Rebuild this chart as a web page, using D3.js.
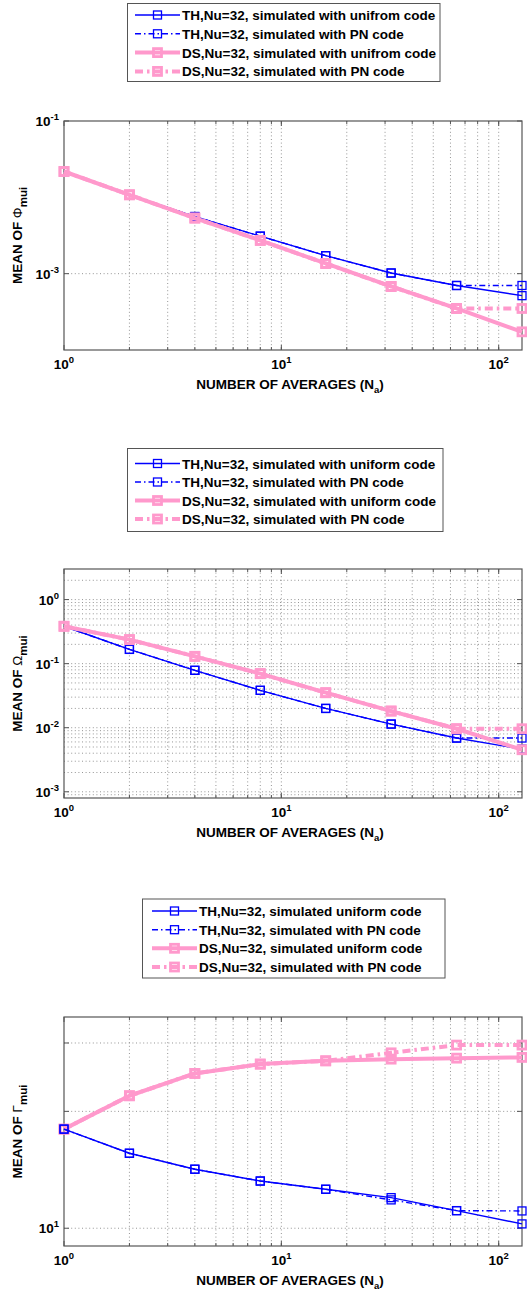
<!DOCTYPE html>
<html>
<head>
<meta charset="utf-8">
<script src="https://cdn.jsdelivr.net/npm/d3@7"></script>
<style>
  body { margin: 0; background: #fff; }
  svg { display: block; }
  text { font-family: "Liberation Sans", Arial, Helvetica, sans-serif; font-weight: bold; fill: #000; }
</style>
</head>
<body>
<svg id="chart" width="527" height="1290"></svg>
<script>
// Number of averages (x axis, shared by all three panels)
const averages = [1, 2, 4, 8, 16, 32, 64, 128];

// Mean of Phi_mui
const phiThUniform = [0.0218, 0.0108, 0.0056, 0.0031, 0.00172, 0.00102, 0.00070, 0.000515];
const phiThPN      = [0.0218, 0.0108, 0.0056, 0.0031, 0.00172, 0.00102, 0.00070, 0.00070];
const phiDsUniform = [0.0218, 0.0108, 0.00535, 0.00273, 0.00136, 0.00068, 0.00035, 0.000173];
const phiDsPN      = [0.0218, 0.0108, 0.00535, 0.00273, 0.00136, 0.00068, 0.00035, 0.00035];

// Mean of Omega_mui
const omegaThUniform = [0.383, 0.167, 0.0786, 0.0383, 0.0200, 0.0114, 0.0069, 0.00463];
const omegaThPN      = [0.383, 0.167, 0.0786, 0.0383, 0.0200, 0.0114, 0.0069, 0.0069];
const omegaDsUniform = [0.383, 0.237, 0.130, 0.0698, 0.0352, 0.0182, 0.00964, 0.00453];
const omegaDsPN      = [0.383, 0.237, 0.130, 0.0698, 0.0352, 0.0182, 0.00964, 0.00964];

// Mean of Gamma_mui
const gammaThUniform = [18.0, 15.6, 14.19, 13.23, 12.60, 11.99, 11.10, 10.26];
const gammaThPN      = [18.0, 15.6, 14.19, 13.23, 12.60, 11.83, 11.10, 11.08];
const gammaDsUniform = [18.0, 21.94, 25.05, 26.47, 26.99, 27.26, 27.42, 27.54];
const gammaDsPN      = [18.0, 21.94, 25.05, 26.47, 26.99, 28.30, 29.63, 29.63];

// Legend entries
const legendPhi = [
  "TH,Nu=32, simulated with unifrom code",
  "TH,Nu=32, simulated with PN code",
  "DS,Nu=32, simulated with unifrom code",
  "DS,Nu=32, simulated with PN code"
];
const legendOmega = [
  "TH,Nu=32, simulated with uniform code",
  "TH,Nu=32, simulated with PN code",
  "DS,Nu=32, simulated with uniform code",
  "DS,Nu=32, simulated with PN code"
];
const legendGamma = [
  "TH,Nu=32, simulated uniform code",
  "TH,Nu=32, simulated with PN code",
  "DS,Nu=32, simulated uniform code",
  "DS,Nu=32, simulated with PN code"
];

// Axis ticks
const xTickValues = [1, 10, 100];
const xTickExponents = ["0", "1", "2"];
const phiTickValues = [1e-1, 1e-3];
const phiTickExponents = ["-1", "-3"];
const omegaTickValues = [1, 1e-1, 1e-2, 1e-3];
const omegaTickExponents = ["0", "-1", "-2", "-3"];
const gammaTickValues = [10, 20, 30];
const gammaTickExponents = ["1", null, null];

// Line styles for the four series
const BLUE = "#0000ff";
const PINK = "#ff99cc";
const styles = [
  { color: BLUE, width: 1.4, dash: null,          marker: 8, mstroke: 1.3 },
  { color: BLUE, width: 1.4, dash: "6,3,1.5,3",   marker: 8, mstroke: 1.3 },
  { color: PINK, width: 4,   dash: null,          marker: 8, mstroke: 2.8 },
  { color: PINK, width: 4,   dash: "8,4,2.5,4",   marker: 8, mstroke: 2.8 }
];

const svg = d3.select("#chart");
const LEFT = 64, RIGHT = 522, PH = 229;

const panels = [
  {
    top: 121, domain: [1e-4, 1e-1], series: [phiThUniform, phiThPN, phiDsUniform, phiDsPN],
    order: [0, 1, 2, 3], ticks: phiTickValues, exps: phiTickExponents, grid: [1e-3],
    symbol: "\u03A6", legend: legendPhi,
    lg: { x0: 127.5, x1: 440, y0: 3.5, y1: 81.5, rows: [15, 33.8, 52.6, 71.4], s0: 135, s1: 180, tx: 182 }
  },
  {
    top: 569, domain: [8e-4, 3], series: [omegaThUniform, omegaThPN, omegaDsUniform, omegaDsPN],
    order: [0, 1, 2, 3], ticks: omegaTickValues, exps: omegaTickExponents,
    grid: (() => { const g = []; for (let e = -4; e <= 0; e++) for (let m = 1; m <= 9; m++) { const v = m * Math.pow(10, e); if (v > 8e-4 && v < 3) g.push(v); } return g; })(),
    symbol: "\u03A9", legend: legendOmega,
    lg: { x0: 127.5, x1: 443, y0: 448.5, y1: 531.5, rows: [463.5, 482, 500.5, 519], s0: 135, s1: 180, tx: 182 }
  },
  {
    top: 1017, domain: [9, 35], series: [gammaThUniform, gammaThPN, gammaDsUniform, gammaDsPN],
    order: [2, 3, 0, 1], ticks: gammaTickValues, exps: gammaTickExponents, grid: [10, 20, 30],
    symbol: "\u0393", legend: legendGamma,
    lg: { x0: 142.5, x1: 445, y0: 899, y1: 978, rows: [911, 929.7, 948.3, 967], s0: 152, s1: 197, tx: 199 }
  }
];

// vertical grid positions: 2..9, 10..90, 100
const xGrid = [];
for (let e = 0; e <= 2; e++) for (let m = 1; m <= 9; m++) {
  const v = m * Math.pow(10, e);
  if (v > 1 && v < 128) xGrid.push(v);
}

panels.forEach(p => {
  const bottom = p.top + PH;
  const x = d3.scaleLog().domain([1, 128]).range([LEFT, RIGHT]);
  const y = d3.scaleLog().domain(p.domain).range([bottom, p.top]);
  const g = svg.append("g");

  // grid
  g.selectAll(null).data(xGrid).join("line")
    .attr("x1", d => x(d)).attr("x2", d => x(d))
    .attr("y1", p.top).attr("y2", bottom)
    .attr("stroke", "#8a8a8a").attr("stroke-width", 0.9).attr("stroke-dasharray", "1,2.6");
  g.selectAll(null).data(p.grid).join("line")
    .attr("x1", LEFT).attr("x2", RIGHT)
    .attr("y1", d => y(d)).attr("y2", d => y(d))
    .attr("stroke", "#8a8a8a").attr("stroke-width", 0.9).attr("stroke-dasharray", "1,2.6");

  // axis box
  g.append("rect").attr("x", LEFT).attr("y", p.top).attr("width", RIGHT - LEFT).attr("height", PH)
    .attr("fill", "none").attr("stroke", "#555").attr("stroke-width", 1.2);

  // inward ticks
  const tk = g.append("g").attr("stroke", "#555").attr("stroke-width", 1);
  xTickValues.forEach(v => {
    tk.append("line").attr("x1", x(v)).attr("x2", x(v)).attr("y1", bottom).attr("y2", bottom - 5);
    tk.append("line").attr("x1", x(v)).attr("x2", x(v)).attr("y1", p.top).attr("y2", p.top + 5);
  });
  xGrid.forEach(v => {
    tk.append("line").attr("x1", x(v)).attr("x2", x(v)).attr("y1", bottom).attr("y2", bottom - 3);
    tk.append("line").attr("x1", x(v)).attr("x2", x(v)).attr("y1", p.top).attr("y2", p.top + 3);
  });
  p.ticks.forEach(v => {
    tk.append("line").attr("x1", LEFT).attr("x2", LEFT + 5).attr("y1", y(v)).attr("y2", y(v));
    tk.append("line").attr("x1", RIGHT).attr("x2", RIGHT - 5).attr("y1", y(v)).attr("y2", y(v));
  });

  // x tick labels
  xTickValues.forEach((v, i) => {
    const t = g.append("text").attr("x", x(v)).attr("y", bottom + 19)
      .attr("text-anchor", "middle").attr("font-size", 13.5);
    t.append("tspan").text("10");
    t.append("tspan").attr("dy", -6).attr("font-size", 9.5).text(xTickExponents[i]);
  });

  // y tick labels
  p.ticks.forEach((v, i) => {
    if (p.exps[i] === null) return;
    const t = g.append("text").attr("x", 59).attr("y", y(v) + 5)
      .attr("text-anchor", "end").attr("font-size", 13.5);
    t.append("tspan").text("10");
    t.append("tspan").attr("dy", -6).attr("font-size", 9.5).text(p.exps[i]);
  });

  // x axis title
  const xt = g.append("text").attr("x", 290).attr("y", bottom + 39)
    .attr("text-anchor", "middle").attr("font-size", 13.5);
  xt.append("tspan").text("NUMBER OF AVERAGES (N");
  xt.append("tspan").attr("dy", 4).attr("font-size", 9.5).text("a");
  xt.append("tspan").attr("dy", -4).text(")");

  // y axis title
  const cy = p.top + PH / 2;
  const yt = g.append("text").attr("transform", `translate(22,${cy}) rotate(-90)`)
    .attr("text-anchor", "middle").attr("font-size", 13.5);
  yt.append("tspan").text("MEAN OF ");
  yt.append("tspan").attr("font-weight", "normal").text(p.symbol);
  yt.append("tspan").attr("dy", 5).attr("font-size", 11.5).text("mui");

  // series
  const line = d3.line().x(d => x(d[0])).y(d => y(d[1]));
  p.order.forEach(si => {
    const st = styles[si];
    const pts = averages.map((a, k) => [a, p.series[si][k]]);
    g.append("path").datum(pts).attr("d", line)
      .attr("fill", "none").attr("stroke", st.color).attr("stroke-width", st.width)
      .attr("stroke-dasharray", st.dash).attr("stroke-linejoin", "round");
    g.selectAll(null).data(pts).join("rect")
      .attr("x", d => x(d[0]) - st.marker / 2).attr("y", d => y(d[1]) - st.marker / 2)
      .attr("width", st.marker).attr("height", st.marker)
      .attr("fill", "none").attr("stroke", st.color).attr("stroke-width", st.mstroke);
  });

  // legend
  const L = p.lg;
  const lg = svg.append("g");
  lg.append("rect").attr("x", L.x0).attr("y", L.y0).attr("width", L.x1 - L.x0).attr("height", L.y1 - L.y0)
    .attr("fill", "#fff").attr("stroke", "#555").attr("stroke-width", 1);
  p.legend.forEach((label, i) => {
    const st = styles[i];
    const ry = L.rows[i];
    const mx = (L.s0 + L.s1) / 2;
    lg.append("line").attr("x1", L.s0).attr("x2", L.s1).attr("y1", ry).attr("y2", ry)
      .attr("stroke", st.color).attr("stroke-width", st.width).attr("stroke-dasharray", st.dash);
    lg.append("rect").attr("x", mx - st.marker / 2).attr("y", ry - st.marker / 2)
      .attr("width", st.marker).attr("height", st.marker)
      .attr("fill", "none").attr("stroke", st.color).attr("stroke-width", st.mstroke);
    lg.append("text").attr("x", L.tx).attr("y", ry + 5).attr("font-size", 13.5).text(label);
  });
});
</script>
</body>
</html>
